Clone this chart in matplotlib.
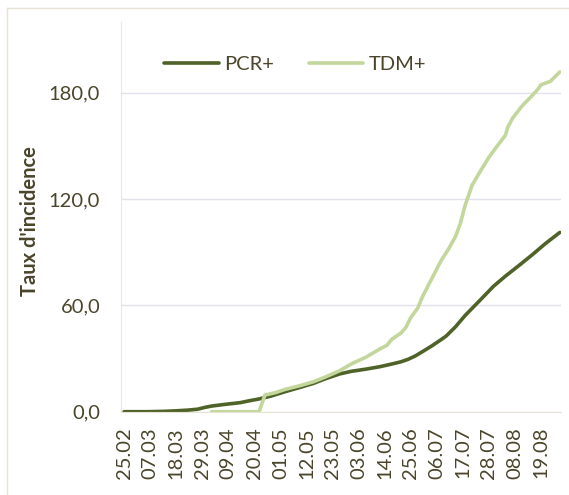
import matplotlib
matplotlib.use("Agg")
import matplotlib.pyplot as plt
from matplotlib.lines import Line2D

# days counted from 25.02 (2020)
pcr_days = [0, 10, 17, 22, 27, 31, 34, 37, 43, 49, 53, 57, 62, 68, 74, 80, 85, 91,
            96, 102, 108, 113, 117, 120, 123, 126, 130, 134, 136, 140, 144, 150,
            156, 161, 167, 172, 178, 184]
pcr_vals = [0, 0, 0.2, 0.5, 0.9, 1.4, 2.4, 3.2, 4.2, 5.1, 6.2, 7.2, 8.8, 11.3, 13.6,
            16.0, 18.6, 21.3, 22.8, 24.0, 25.4, 26.9, 28.2, 29.6, 31.5, 33.9, 37.2,
            40.8, 42.7, 48.0, 54.3, 62.5, 70.8, 76.5, 82.8, 88.2, 95.0, 101.2]

tdm_days = [37, 57, 59.5, 64, 68, 74, 80, 85, 91, 96, 102, 108, 111, 113, 117, 119,
            121, 124, 126, 130, 134, 137, 140, 142, 144, 147, 151, 154, 157, 161,
            162, 164, 168, 172, 175, 176, 180, 184]
tdm_vals = [0, 0, 9.4, 10.8, 12.6, 14.6, 16.9, 19.6, 23.1, 27.0, 30.7, 35.4, 37.5,
            40.8, 44.5, 47.6, 53.0, 58.5, 64.9, 75.3, 85.6, 91.8, 99.0, 106.3, 116.5,
            128.0, 137.0, 143.5, 149.0, 156.0, 160.5, 165.6, 172.5, 178.0, 182.5,
            184.5, 186.5, 191.8]

tick_labels = ["25.02", "07.03", "18.03", "29.03", "09.04", "20.04", "01.05",
               "12.05", "23.05", "03.06", "14.06", "25.06", "06.07", "17.07",
               "28.07", "08.08", "19.08"]
tick_days = [11 * i for i in range(len(tick_labels))]
y_ticks = [0, 60, 120, 180]

txt = "#4a452a"
plt.rcParams["font.family"] = ["Lato", "DejaVu Sans"]

fig = plt.figure(figsize=(5.69, 4.95), dpi=100)
ax = fig.add_axes([121 / 569, 1 - 411.7 / 495, 440 / 569, (411.7 - 22) / 495])

ax.plot(pcr_days, pcr_vals, color="#4f6228", lw=2.6, label="PCR+", solid_capstyle="round")
ax.plot(tdm_days, tdm_vals, color="#c3d69b", lw=2.6, label="TDM+", solid_capstyle="round")

ax.set_xlim(-1.3, 184.5)
ax.set_ylim(0, 220)
ax.set_yticks(y_ticks)
ax.set_yticklabels([("%.1f" % v).replace(".", ",") for v in y_ticks])
ax.set_xticks(tick_days)
ax.set_xticklabels(tick_labels, rotation=90)
ax.tick_params(axis="both", length=0, labelsize=14.5, colors=txt)
ax.tick_params(axis="y", pad=15)
ax.tick_params(axis="x", pad=11)

ax.grid(axis="y", color="#e4e1ee", lw=1)
ax.set_axisbelow(True)
for s in ["top", "right"]:
    ax.spines[s].set_visible(False)
ax.spines["left"].set_color("#ebe8dc")
ax.spines["bottom"].set_color("#e8e5d8")

ax.set_ylabel("Taux d'incidence", fontsize=14.5, fontweight="bold", color=txt)
ax.yaxis.set_label_coords(-0.184, 0.49)

ax.legend(loc="upper left", bbox_to_anchor=(146 / 569, 1 - 38 / 495),
          bbox_transform=fig.transFigure, ncol=2, frameon=False, fontsize=14.5,
          handlelength=2.7, handletextpad=0.3, columnspacing=1.7, labelcolor=txt)

# outer chart border
fig.add_artist(Line2D([7 / 569, 1], [1 - 8 / 495, 1 - 8 / 495], color="#e6e3d6", lw=1))
fig.add_artist(Line2D([7 / 569, 7 / 569], [0, 1 - 8 / 495], color="#e6e3d6", lw=1))

fig.savefig("out.png", dpi=100)
